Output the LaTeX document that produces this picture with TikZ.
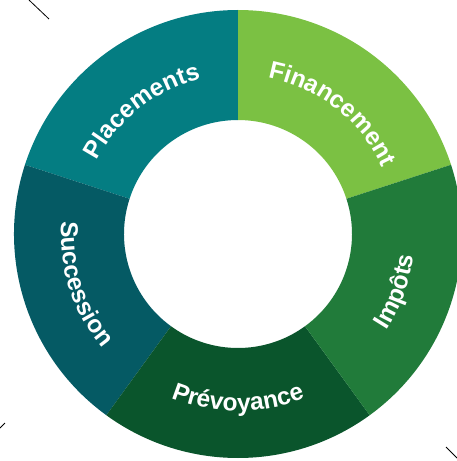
\documentclass[tikz,border=0pt]{standalone}
\usepackage{fontspec}
\setmainfont{Liberation Sans}
\usetikzlibrary{decorations.text}
\definecolor{cFin}{HTML}{7BC143}
\definecolor{cPla}{HTML}{047D82}
\definecolor{cSuc}{HTML}{055A64}
\definecolor{cPre}{HTML}{0A552C}
\definecolor{cImp}{HTML}{217B3A}
\newcommand\segfont{\fontsize{24.5}{24.5}\selectfont\bfseries}
\tikzset{
  seglabel/.style={decorate, decoration={text along path, text align=center,
     text color=white, text={|\segfont|#1}}},
  cropmark/.style={draw=black, line width=0.8pt}
}
\newcommand\segment[3]{%
  \fill[#3] (#1:224pt) arc[start angle=#1, end angle=#2, radius=224pt]
     -- (#2:114pt) arc[start angle=#2, end angle=#1, radius=114pt] -- cycle;}
\begin{document}
\begin{tikzpicture}[x=1pt,y=1pt]
\useasboundingbox (-238,-227) rectangle (219,234);
\segment{18}{90}{cFin}
\segment{90}{162}{cPla}
\segment{162}{234}{cSuc}
\segment{234}{306}{cPre}
\segment{306}{378}{cImp}
% labels
\path[seglabel=Financement] (97:159pt) arc[start angle=97, end angle=7, radius=159pt];
\path[seglabel=Placements] (173:159pt) arc[start angle=173, end angle=83, radius=159pt];
\path[seglabel=Impôts] (-65:177pt) arc[start angle=-65, end angle=25, radius=177pt];
\path[seglabel=Prévoyance] (225:177pt) arc[start angle=225, end angle=315, radius=177pt];
\path[seglabel=Succession] (153:177pt) arc[start angle=153, end angle=243, radius=177pt];
% crop marks
\coordinate (tl1) at (-209,234); \coordinate (tl2) at (-189,215);
\coordinate (bl1) at (-238,-194); \coordinate (bl2) at (-233,-189);
\coordinate (br1) at (208,-213); \coordinate (br2) at (219,-224);
\draw[cropmark] (tl1) -- (tl2);
\draw[cropmark] (bl1) -- (bl2);
\draw[cropmark] (br1) -- (br2);
\end{tikzpicture}
\end{document}
